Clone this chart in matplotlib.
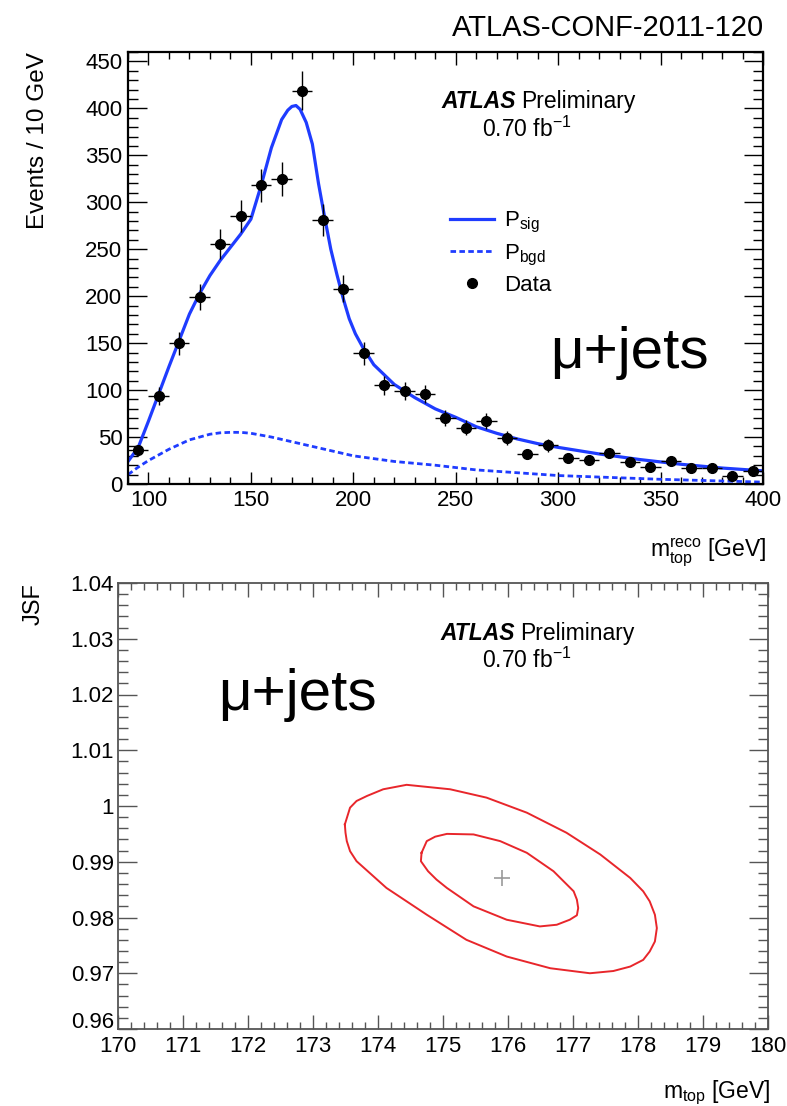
import numpy as np
import matplotlib
matplotlib.use("Agg")
import matplotlib.pyplot as plt
import matplotlib.transforms as mtransforms
from matplotlib.lines import Line2D
from matplotlib.ticker import MultipleLocator

plt.rcParams['font.family'] = ['Liberation Sans', 'DejaVu Sans']
plt.rcParams['mathtext.fontset'] = 'custom'
plt.rcParams['mathtext.rm'] = 'Liberation Sans'
plt.rcParams['mathtext.it'] = 'Liberation Sans:italic'
plt.rcParams['mathtext.bf'] = 'Liberation Sans:bold'

# ---------------- data: top panel ----------------
bin_centers = [95, 105, 115, 125, 135, 145, 155, 165, 175, 185, 195, 205, 215, 225, 235,
               245, 255, 265, 275, 285, 295, 305, 315, 325, 335, 345, 355, 365, 375, 385, 395]
data_counts = [36, 94, 150, 199, 256, 285, 318, 325, 419, 281, 208, 139, 105, 99, 96,
               70, 60, 67, 49, 32, 41, 28, 26, 33, 23, 18, 25, 17, 17, 9, 14]

sig_x = [90, 95, 100, 105, 110, 115, 120, 125, 130, 135, 140, 145, 150, 155, 160, 165,
         168, 170, 172, 174, 177, 180, 183, 186, 189, 192, 195, 198, 201, 205, 210, 220, 230,
         240, 250, 260, 270, 280, 290, 300, 320, 340, 360, 380, 400]
sig_y = [24, 39, 67, 96, 125, 153, 181, 203, 222, 238, 252, 266, 282, 318, 358, 388,
         398, 402, 403, 399, 385, 362, 320, 284, 250, 223, 198, 176, 160, 144, 127, 106, 92,
         80, 71, 61, 54, 48, 43, 39, 32, 26, 21, 17, 14]

bkg_x = [90, 95, 100, 105, 110, 115, 120, 125, 130, 135, 140, 145, 150, 160, 170, 180,
         190, 200, 210, 220, 240, 260, 280, 300, 325, 350, 375, 400]
bkg_y = [10, 18, 25, 31, 37, 42, 47, 50, 53, 54.5, 55, 55, 54, 50, 45, 40,
         35, 30, 27, 24, 20, 15, 12, 9, 7, 5, 3.5, 2]

# ---------------- data: bottom panel ----------------
outer_mtop = [173.49, 173.57, 173.67, 173.83, 174.08, 174.44, 175.11, 175.67, 176.29,
              176.90, 177.42, 177.88, 178.08, 178.18, 178.26, 178.29, 178.26, 178.18,
              178.08, 177.88, 177.62, 177.26, 176.65, 175.98, 175.36, 174.75, 174.13,
              173.67, 173.57, 173.52, 173.50, 173.49]
outer_jsf = [0.9967, 0.9997, 1.0009, 1.0018, 1.0030, 1.0038, 1.0030, 1.0015, 0.9988,
             0.9952, 0.9913, 0.9871, 0.9847, 0.9829, 0.9805, 0.9781, 0.9757, 0.9739,
             0.9724, 0.9712, 0.9704, 0.9700, 0.9709, 0.9730, 0.9760, 0.9805, 0.9853,
             0.9901, 0.9919, 0.9937, 0.9952, 0.9967]
inner_mtop = [174.67, 174.75, 174.88, 175.06, 175.47, 175.88, 176.29, 176.70, 177.01,
              177.06, 177.08, 177.06, 176.95, 176.75, 176.49, 175.98, 175.47, 175.06,
              174.90, 174.77, 174.66, 174.67]
inner_jsf = [0.9916, 0.9937, 0.9945, 0.9950, 0.9949, 0.9937, 0.9916, 0.9883, 0.9847,
             0.9832, 0.9817, 0.9804, 0.9796, 0.9787, 0.9784, 0.9796, 0.9820, 0.9853,
             0.9868, 0.9883, 0.9901, 0.9916]
best_mtop = [175.9]
best_jsf = [0.987]

W, H = 787, 1106
fig = plt.figure(figsize=(W / 100, H / 100), dpi=100)

def fx(px):
    return px / W

def fy(py):
    return 1 - py / H

blue = '#1f3cff'
red = '#e8262b'
txt_size = 16.5

# ---------------- top panel ----------------
ax1 = fig.add_axes([fx(128), fy(484), (763 - 128) / W, (484 - 52) / H])
ax1.plot(bkg_x, bkg_y, color=blue, lw=2.0, ls=(0, (2.0, 1.2)))
ax1.plot(sig_x, sig_y, color=blue, lw=2.3, solid_joinstyle='round')
cnt = np.array(data_counts, dtype=float)
ax1.errorbar(bin_centers, cnt, xerr=5, yerr=np.sqrt(cnt), fmt='o', color='black',
             ms=7, elinewidth=1.0, capsize=0, zorder=5)
ax1.set_xlim(90, 400)
ax1.set_ylim(0, 460)
ax1.xaxis.set_major_locator(MultipleLocator(50))
ax1.xaxis.set_minor_locator(MultipleLocator(10))
ax1.yaxis.set_major_locator(MultipleLocator(50))
ax1.yaxis.set_minor_locator(MultipleLocator(10))
ax1.tick_params(axis='both', which='both', direction='in', top=True, right=True,
                labelsize=16, width=1.0)
ax1.tick_params(axis='y', which='major', length=14, pad=4)
ax1.tick_params(axis='y', which='minor', length=7)
ax1.tick_params(axis='x', which='major', length=9, pad=4)
ax1.tick_params(axis='x', which='minor', length=5)
for s in ax1.spines.values():
    s.set_linewidth(1.6)

ax1.text((441 - 128) / 635, (484 - 108) / 432, 'ATLAS', transform=ax1.transAxes,
         fontsize=txt_size, fontweight='bold', fontstyle='italic', va='baseline', ha='left')
ax1.text((521 - 128) / 635, (484 - 108) / 432, 'Preliminary', transform=ax1.transAxes,
         fontsize=txt_size, va='baseline', ha='left')
ax1.text((482 - 128) / 635, (484 - 137) / 432, r'0.70 fb$^{-1}$', transform=ax1.transAxes,
         fontsize=txt_size, va='baseline', ha='left')
ax1.text((550 - 128) / 635, (484 - 368) / 432, 'μ+jets', transform=ax1.transAxes,
         fontsize=42, va='baseline', ha='left',
         family=['Liberation Sans', 'DejaVu Sans'])

handles = [Line2D([], [], color=blue, lw=2.3),
           Line2D([], [], color=blue, lw=2.0, ls=(0, (2.0, 1.2))),
           Line2D([], [], color='black', marker='o', ls='none', ms=7)]
labels = [r'P$_{\mathrm{sig}}$', r'P$_{\mathrm{bgd}}$', 'Data']
ax1.legend(handles, labels, loc='upper left',
           bbox_to_anchor=((450 - 128) / 635, (484 - 210) / 432),
           frameon=False, fontsize=16, handlelength=2.0, handletextpad=0.45,
           labelspacing=0.33, borderpad=0, borderaxespad=0)

fig.text(fx(38), fy(52), 'Events / 10 GeV', rotation=90, ha='center', va='top',
         fontsize=17.5)
fig.text(fx(766), fy(556), r'm$_{\mathrm{top}}^{\mathrm{reco}}$ [GeV]', ha='right',
         va='baseline', fontsize=16.5)
fig.text(fx(764), fy(36), 'ATLAS-CONF-2011-120', ha='right', va='baseline', fontsize=21)

# ---------------- bottom panel ----------------
ax2 = fig.add_axes([fx(118), fy(1029), (768 - 118) / W, (1029 - 583) / H])
ax2.plot(outer_mtop, outer_jsf, color=red, lw=1.4, solid_joinstyle='round')
ax2.plot(inner_mtop, inner_jsf, color=red, lw=1.4, solid_joinstyle='round')
ax2.plot(best_mtop, best_jsf, marker='+', color='#9a9a9a', ms=11, mew=1.2, ls='none')
ax2.set_xlim(170, 180)
ax2.set_ylim(0.96, 1.04)
ax2.xaxis.set_major_locator(MultipleLocator(1))
ax2.xaxis.set_minor_locator(MultipleLocator(0.2))
ax2.yaxis.set_minor_locator(MultipleLocator(0.002))
ax2.set_yticks([0.96, 0.97, 0.98, 0.99, 1.0, 1.01, 1.02, 1.03, 1.04])
ax2.set_yticklabels(['0.96', '0.97', '0.98', '0.99', '1', '1.01', '1.02', '1.03', '1.04'])
ax2.tick_params(axis='both', which='both', direction='in', top=True, right=True,
                labelsize=16, width=1.0, color='#555555')
ax2.tick_params(axis='y', which='major', length=14, pad=3)
ax2.tick_params(axis='y', which='minor', length=7)
ax2.tick_params(axis='x', which='major', length=10, pad=5)
ax2.tick_params(axis='x', which='minor', length=5)
for s in ax2.spines.values():
    s.set_linewidth(1.3)
    s.set_color('#555555')
# lift the lowest y label a little so it does not collide with "170"
lbl = ax2.get_yticklabels()[0]
lbl.set_transform(lbl.get_transform() +
                  mtransforms.ScaledTranslation(0, 0.09, fig.dpi_scale_trans))

ax2.text((440 - 118) / 650, (1029 - 640) / 446, 'ATLAS', transform=ax2.transAxes,
         fontsize=txt_size, fontweight='bold', fontstyle='italic', va='baseline', ha='left')
ax2.text((520 - 118) / 650, (1029 - 640) / 446, 'Preliminary', transform=ax2.transAxes,
         fontsize=txt_size, va='baseline', ha='left')
ax2.text((482 - 118) / 650, (1029 - 668) / 446, r'0.70 fb$^{-1}$', transform=ax2.transAxes,
         fontsize=txt_size, va='baseline', ha='left')
ax2.text((218 - 118) / 650, (1029 - 710) / 446, 'μ+jets', transform=ax2.transAxes,
         fontsize=42, va='baseline', ha='left',
         family=['Liberation Sans', 'DejaVu Sans'])

fig.text(fx(34), fy(583), 'JSF', rotation=90, ha='center', va='top', fontsize=17)
fig.text(fx(770), fy(1098), r'm$_{\mathrm{top}}$ [GeV]', ha='right', va='baseline',
         fontsize=16.5)

fig.savefig('out.png', dpi=100)
